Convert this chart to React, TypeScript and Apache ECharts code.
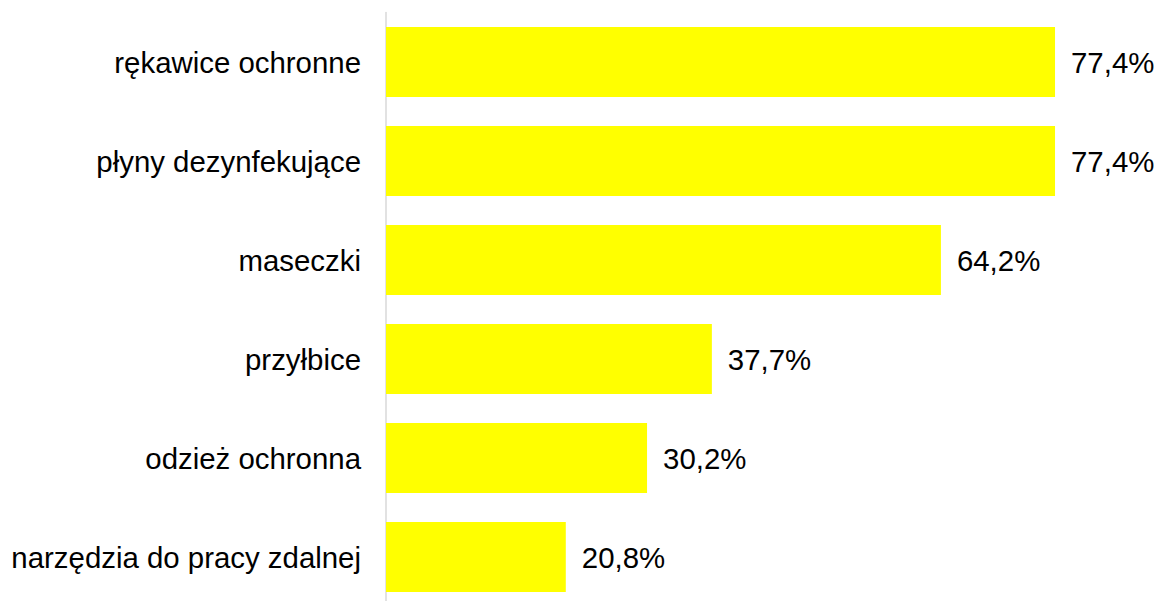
import React, { useEffect, useRef } from "react";
import * as echarts from "echarts";

const categories = [
  "rękawice ochronne",
  "płyny dezynfekujące",
  "maseczki",
  "przyłbice",
  "odzież ochronna",
  "narzędzia do pracy zdalnej",
];
const values = [77.4, 77.4, 64.2, 37.7, 30.2, 20.8];

export default function App() {
  const ref = useRef<HTMLDivElement>(null);
  useEffect(() => {
    if (!ref.current) return;
    const chart = echarts.init(ref.current, undefined, { renderer: "svg" });
    chart.setOption({
      animation: false,
      backgroundColor: "#ffffff",
      grid: { left: 386, top: 12.5, width: 691.5, height: 594 },
      xAxis: {
        type: "value",
        min: 0,
        max: 80,
        show: false,
      },
      yAxis: {
        type: "category",
        data: categories,
        inverse: true,
        axisLine: { show: true, lineStyle: { color: "#d9d9d9", width: 1.5 } },
        axisTick: { show: false },
        axisLabel: {
          margin: 25,
          color: "#000000",
          fontFamily: "Liberation Sans, Arial, sans-serif",
          fontSize: 29.4,
        },
      },
      series: [
        {
          type: "bar",
          data: values,
          barWidth: 70,
          itemStyle: { color: "#ffff00" },
          label: {
            show: true,
            position: "right",
            distance: 16,
            color: "#000000",
            fontFamily: "Liberation Sans, Arial, sans-serif",
            fontSize: 29.4,
            formatter: (p: any) => p.value.toFixed(1).replace(".", ",") + "%",
          },
        },
      ],
    });
    return () => chart.dispose();
  }, []);
  return (
    <div
      style={{
        position: "absolute",
        left: 0,
        top: 0,
        width: 1160,
        height: 601,
        overflow: "hidden",
        background: "#ffffff",
      }}
    >
      <div ref={ref} style={{ width: 1160, height: 620 }} />
    </div>
  );
}
